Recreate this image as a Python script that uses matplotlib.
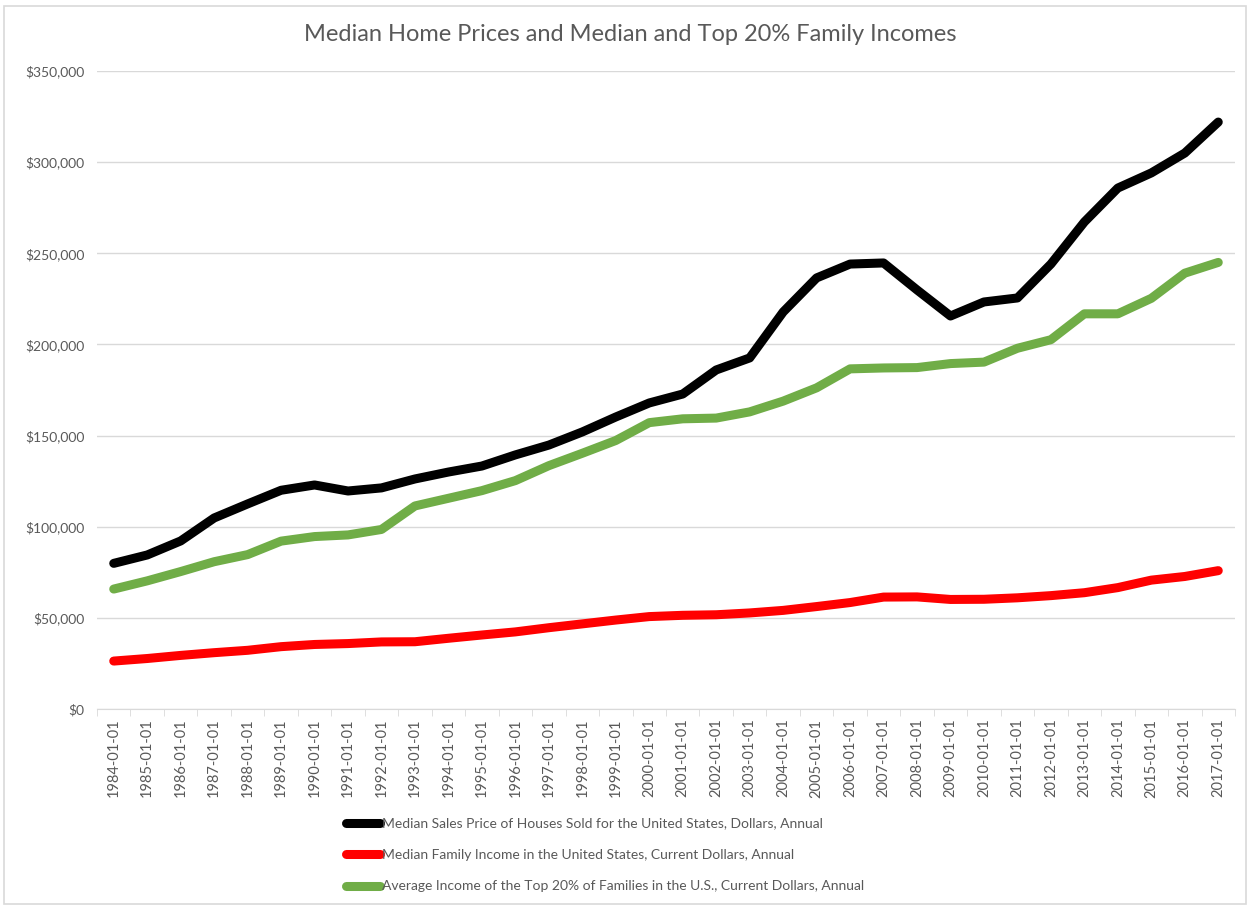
import numpy as np
import matplotlib
matplotlib.use('Agg')
import matplotlib.pyplot as plt
from matplotlib.patches import Rectangle
from matplotlib.ticker import FuncFormatter

plt.rcParams['font.family'] = ['Lato', 'DejaVu Sans']

# data
years = [f"{y}-01-01" for y in range(1984, 2018)]
house_price = [79900, 84500, 92200, 104800, 112500, 120000, 122900, 119600, 121300, 126200,
               130000, 133300, 139400, 144800, 152000, 160200, 167900, 172800, 186000, 192600,
               217800, 236500, 244100, 244700, 229900, 215600, 223300, 225500, 244100, 267200,
               285800, 294100, 305000, 322000]
median_income = [26300, 27700, 29400, 30900, 32200, 34200, 35400, 35900, 36800, 36900,
                 38800, 40600, 42300, 44600, 46700, 48800, 50700, 51400, 51700, 52700,
                 54100, 56200, 58400, 61400, 61500, 60100, 60200, 61000, 62200, 63800,
                 66600, 70700, 72700, 75900]
top20_income = [65800, 70300, 75400, 80800, 84700, 92100, 94600, 95500, 98500, 111400,
                115600, 119800, 125300, 133500, 140300, 147300, 157100, 159200, 159600, 163000,
                168900, 176200, 186600, 187100, 187300, 189500, 190300, 197900, 202600, 216800,
                216800, 225300, 239100, 245000]

labels = ["Median Sales Price of Houses Sold for the United States, Dollars, Annual",
          "Median Family Income in the United States, Current Dollars, Annual",
          "Average Income of the Top 20% of Families in the U.S., Current Dollars, Annual"]
colors = ['#000000', '#FF0000', '#70AD47']

txt = '#595959'
grid = '#D9D9D9'

fig = plt.figure(figsize=(12.5, 9.07), dpi=100)
ax = fig.add_axes([0.0776, 0.2183, 0.9104, 0.7034])

x = np.arange(len(years))
for vals, c, lab in zip([house_price, median_income, top20_income], colors, labels):
    ax.plot(x, vals, color=c, lw=6.5, solid_capstyle='round', solid_joinstyle='round', label=lab)

ax.set_xlim(-0.5, len(years) - 0.5)
ax.set_ylim(0, 350000)
ax.set_yticks(np.arange(0, 350001, 50000))
ax.yaxis.set_major_formatter(FuncFormatter(lambda v, p: f"${v:,.0f}"))
ax.grid(axis='y', color=grid, lw=1)
ax.set_axisbelow(True)

ax.set_xticks(x)
ax.set_xticklabels(years, rotation=90)
ax.set_xticks(np.arange(-0.5, len(years), 1), minor=True)
ax.tick_params(axis='x', which='major', length=0, pad=7, labelsize=10.5, labelcolor=txt)
ax.tick_params(axis='x', which='minor', length=5, color=grid)
ax.tick_params(axis='y', length=0, pad=9, labelsize=10, labelcolor=txt)

for s in ['top', 'right', 'left']:
    ax.spines[s].set_visible(False)
ax.spines['bottom'].set_color(grid)

fig.text(0.504, 0.962, "Median Home Prices and Median and Top 20% Family Incomes",
         ha='center', va='center', fontsize=17, color=txt)

fig.legend(loc='upper left', bbox_to_anchor=(0.272, 0.1047), frameon=False,
           fontsize=10, labelcolor=txt, handlelength=2.5, handletextpad=0.1,
           labelspacing=1.4, borderaxespad=0)

fig.patches.append(Rectangle((0.003, 0.003), 0.994, 0.99, transform=fig.transFigure,
                             fill=False, edgecolor='#D9D9D9', lw=1.2))

fig.savefig('out.png', dpi=100)
